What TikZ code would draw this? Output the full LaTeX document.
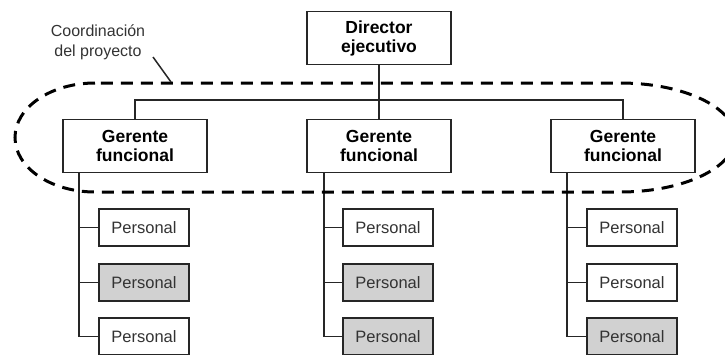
\documentclass[tikz,border=0pt]{standalone}
\usepackage{fontspec}
\setmainfont{Liberation Sans}
\definecolor{boxgray}{rgb}{0.82,0.82,0.82}
\definecolor{inkgray}{rgb}{0.2,0.2,0.2}
\begin{document}
\begin{tikzpicture}[x=1pt,y=-1pt,
  box/.style={draw=black!85, line width=1.8pt, fill=white, inner sep=0pt},
  head/.style={box, minimum width=144pt, minimum height=53pt, align=center,
    font=\bfseries\fontsize{17.5}{19}\selectfont},
  pers/.style={box, minimum width=90pt, minimum height=37pt,
    font=\fontsize{16.5}{18}\selectfont, text=inkgray},
  persg/.style={pers, fill=boxgray},
  conn/.style={draw=black!85, line width=1.8pt},
  coord/.style={draw=black, line width=3pt, dash pattern=on 12pt off 8pt}]
\useasboundingbox (0,0) rectangle (725,354);

% top level
\node[head] (dir) at (379,38) {Director\\ejecutivo};
\node[head] (g1) at (135,146) {Gerente\\funcional};
\node[head] (g2) at (379,146) {Gerente\\funcional};
\node[head] (g3) at (623,146) {Gerente\\funcional};

% staff
\node[pers]  (p11) at (144,227.5) {Personal};
\node[persg] (p12) at (144,282.5) {Personal};
\node[pers]  (p13) at (144,336.5) {Personal};
\node[pers]  (p21) at (388,227.5) {Personal};
\node[persg] (p22) at (388,282.5) {Personal};
\node[persg] (p23) at (388,336.5) {Personal};
\node[pers]  (p31) at (632,227.5) {Personal};
\node[pers]  (p32) at (632,282.5) {Personal};
\node[persg] (p33) at (632,336.5) {Personal};

% connectors
\coordinate (bus) at (379,100);
\draw[conn] (g1.north) |- (bus) -| (g3.north);
\draw[conn] (dir.south) -- (g2.north);

\coordinate (t1) at ([xshift=17pt]g1.south west);
\coordinate (t2) at ([xshift=18pt]g2.south west);
\coordinate (t3) at ([xshift=17pt]g3.south west);
\draw[conn] (t1) |- (p13.west);
\draw[conn] (t1 |- p11.west) -- (p11.west);
\draw[conn] (t1 |- p12.west) -- (p12.west);
\draw[conn] (t2) |- (p23.west);
\draw[conn] (t2 |- p21.west) -- (p21.west);
\draw[conn] (t2 |- p22.west) -- (p22.west);
\draw[conn] (t3) |- (p33.west);
\draw[conn] (t3 |- p31.west) -- (p31.west);
\draw[conn] (t3 |- p32.west) -- (p32.west);

% coordination outline
\draw[coord] (95,83) arc[start angle=90, end angle=270, x radius=80pt, y radius=54.5pt]
  -- (620,192) arc[start angle=-90, end angle=90, x radius=115pt, y radius=54.5pt] -- cycle;

% label
\node[align=center, text=inkgray, font=\fontsize{16}{20}\selectfont] (lab) at (98,42) {Coordinación\\del proyecto};
\coordinate (labtip) at (171,82);
\draw[black!85, line width=1.5pt] (153,57) -- (labtip);
\end{tikzpicture}
\end{document}
